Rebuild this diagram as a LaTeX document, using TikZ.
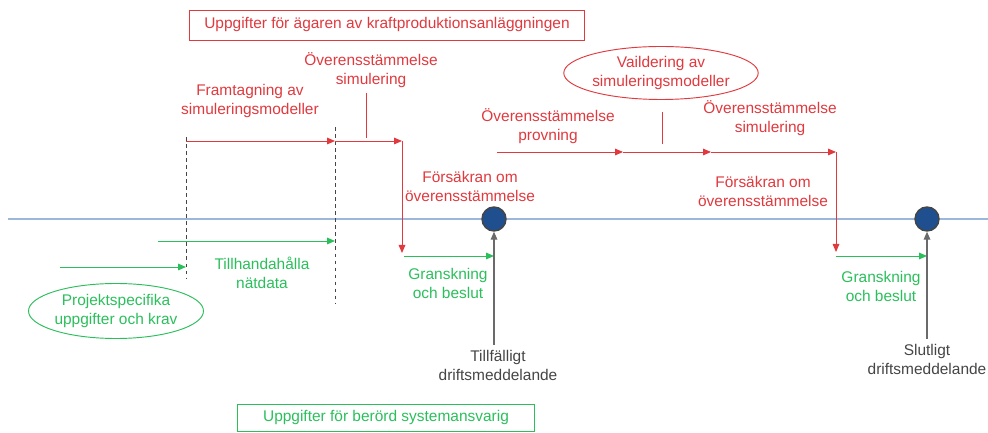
\documentclass[tikz,border=0pt]{standalone}
\usepackage{fontspec}
\setmainfont{Liberation Sans}
\usetikzlibrary{arrows.meta,shapes.geometric}
\definecolor{agarred}{HTML}{E0393E}
\definecolor{sysgreen}{HTML}{2BBF5C}
\definecolor{tidblue}{HTML}{9BB7D9}
\definecolor{milfill}{HTML}{1F4F8F}
\definecolor{milgray}{HTML}{454545}
\begin{document}
\begin{tikzpicture}[x=0.03cm, y=-0.03cm, >={Triangle[length=0.24cm,width=0.2cm]},
    every node/.style={font=\fontsize{13.2}{16.2}\selectfont, align=center, inner sep=0pt},
    red txt/.style={text=agarred},
    green txt/.style={text=sysgreen},
    gray txt/.style={text=milgray},
    red line/.style={draw=agarred, line width=0.8pt},
    green line/.style={draw=sysgreen, line width=0.8pt},
    milestone/.style={circle, draw=milgray, line width=1.2pt, fill=milfill, minimum size=0.72cm}]
    \useasboundingbox (0,0) rectangle (988,433);

    % tidslinje
    \draw[tidblue, line width=1.2pt] (8,219) -- (988,219);

    % rubriker
    \node[draw=agarred, red txt, minimum width=11.85cm, minimum height=0.9cm] (owner) at (387,25) {Uppgifter för ägaren av kraftproduktionsanläggningen};
    \node[draw=sysgreen, green txt, minimum width=8.91cm, minimum height=0.81cm] (tso) at (386,418) {Uppgifter för berörd systemansvarig};

    % hjälppunkter
    \coordinate (d1t) at (186,137); \coordinate (d1b) at (186,278);
    \coordinate (d2t) at (335,127); \coordinate (d2b) at (335,303);
    \coordinate (r1) at (186,141); \coordinate (r2) at (335,141);
    \coordinate (r3) at (402,141); \coordinate (r4) at (402,253);
    \coordinate (s1) at (497,152); \coordinate (s2) at (623,152);
    \coordinate (s3) at (711,152); \coordinate (s4) at (836,152);
    \coordinate (s5) at (836,252);
    \coordinate (g1) at (158,241); \coordinate (g2) at (60,267);
    \coordinate (g3) at (404,256); \coordinate (g4) at (836,256);
    \coordinate (k1a) at (366,93); \coordinate (k1b) at (366,138);
    \coordinate (k2a) at (662,112); \coordinate (k2b) at (662,144);

    \draw[milgray, dashed, line width=0.7pt] (d1t) -- (d1b);
    \draw[milgray, dashed, line width=0.7pt] (d2t) -- (d2b);

    % milstolpar
    \node[milestone] (m1) at (494,219) {};
    \node[milestone] (m2) at (927,219) {};

    % ägarens steg
    \node[red txt] (fram) at (250,101) {Framtagning av\\simuleringsmodeller};
    \node[red txt] (sim1) at (371,70) {Överensstämmelse\\simulering};
    \node[red txt] (fors1) at (470,186) {Försäkran om\\överensstämmelse};
    \node[red txt] (prov) at (548,126) {Överensstämmelse\\provning};
    \node[red txt] (sim2) at (770,118) {Överensstämmelse\\simulering};
    \node[red txt] (fors2) at (763,191) {Försäkran om\\överensstämmelse};
    \node[red txt, ellipse, draw=agarred, line width=0.8pt, minimum width=5.16cm, minimum height=1.59cm] (valid) at (661,73) {Vaildering av\\simuleringsmodeller};

    \draw[red line, ->] (r1) -- (r2);
    \draw[red line, ->] (r2) -- (r3);
    \draw[red line, ->] (r3) -- (r4);
    \draw[red line] (k1a) -- (k1b);
    \draw[red line, ->] (s1) -- (s2);
    \draw[red line, ->] (s2) -- (s3);
    \draw[red line, ->] (s3) -- (s4);
    \draw[red line, ->] (s4) -- (s5);
    \draw[red line] (k2a) -- (k2b);

    % systemansvarigs steg
    \node[green txt, ellipse, draw=sysgreen, line width=0.8pt, minimum width=5.25cm, minimum height=1.65cm] (proj) at (116,311) {Projektspecifika\\uppgifter och krav};
    \node[green txt] (natd) at (262,273) {Tillhandahålla\\nätdata};
    \node[green txt] (gran1) at (448,283) {Granskning\\och beslut};
    \node[green txt] (gran2) at (881,286) {Granskning\\och beslut};

    \draw[green line, ->] (g2) -- (g2 -| d1t);
    \draw[green line, ->] (g1) -- (g1 -| d2t);
    \draw[green line, ->] (g3) -- (g3 -| m1);
    \draw[green line, ->] (g4) -- (g4 -| m2);

    % driftsmeddelanden
    \node[gray txt] (tillf) at (498,365) {Tillfälligt\\driftsmeddelande};
    \node[gray txt] (slut) at (927,359) {Slutligt\\driftsmeddelande};
    \draw[milgray!80, line width=1pt, ->] (tillf.north -| m1) ++(0,-5) -- (m1.south);
    \draw[milgray!80, line width=1pt, ->] (slut.north -| m2) ++(0,-5) -- (m2.south);
\end{tikzpicture}
\end{document}
